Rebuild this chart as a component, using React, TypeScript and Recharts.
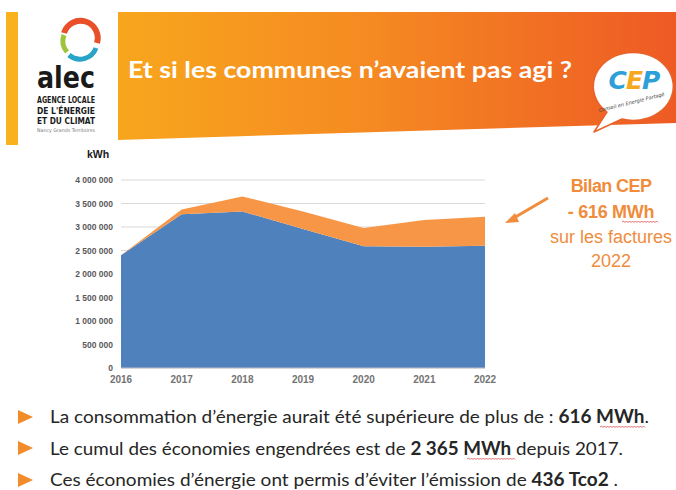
import { AreaChart, Area, XAxis, YAxis, CartesianGrid } from "recharts";

// consommation réelle vs. économies CEP (kWh)
const years = ["2016", "2017", "2018", "2019", "2020", "2021", "2022"];
const consumption = [2400000, 3270000, 3330000, 2960000, 2590000, 2580000, 2600000];
const savings = [0, 100000, 320000, 370000, 390000, 570000, 616000];
const yTicks = [0, 500000, 1000000, 1500000, 2000000, 2500000, 3000000, 3500000, 4000000];

const data = years.map((year, i) => ({
  year,
  reel: consumption[i],
  economie: savings[i],
}));

function fmtKwh(n: number) {
  return String(n).replace(/\B(?=(\d{3})+(?!\d))/g, " ");
}

// petit soulignement ondulé (correcteur)
function squiggle(x1: number, x2: number, y: number) {
  let d = `M${x1},${y}`;
  let up = true;
  for (let x = x1 + 1.5; x <= x2; x += 1.5) {
    d += ` L${x},${up ? y - 1 : y + 0.5}`;
    up = !up;
  }
  return d;
}

const ORANGE = "#F08C3C";
const bodyFont = "Lato, 'Open Sans', sans-serif";
const logoFont = "'DejaVu Sans', sans-serif";

export default function App() {
  return (
    <div
      style={{
        position: "absolute",
        left: 0,
        top: 0,
        width: 676,
        height: 490,
        background: "#fff",
        overflow: "hidden",
      }}
    >
      <svg width={676} height={490} style={{ position: "absolute", left: 0, top: 0 }}>
        <defs>
          <linearGradient id="band" x1="0" y1="0" x2="1" y2="0">
            <stop offset="0%" stopColor="#F8A61D" />
            <stop offset="45%" stopColor="#F58A22" />
            <stop offset="100%" stopColor="#EE5A24" />
          </linearGradient>
        </defs>

        {/* bandeau */}
        <rect x={6} y={12} width={12} height={133} fill="#F9B21C" />
        <polygon points="118,12 676,12 676,123 118,140" fill="url(#band)" />

        {/* logo alec */}
        <path d="M64,33 A17,17 0 0 1 97,43" stroke="#E9502A" strokeWidth={6} fill="none" />
        <path d="M96,48 A17,17 0 0 1 69,55" stroke="#27A4C8" strokeWidth={5} fill="none" />
        <path d="M67,52 A17,17 0 0 1 64,35" stroke="#9DC53B" strokeWidth={5} fill="none" />
        <text x={37} y={88} fontFamily={logoFont} fontWeight={700} fontSize={30} textLength={58} lengthAdjust="spacingAndGlyphs" fill="#1a1a1a">alec</text>
        <text x={37} y={103} fontFamily={logoFont} fontWeight={700} fontSize={9} textLength={58} lengthAdjust="spacingAndGlyphs" fill="#1a1a1a">AGENCE LOCALE</text>
        <text x={37} y={113.5} fontFamily={logoFont} fontWeight={700} fontSize={9} textLength={58} lengthAdjust="spacingAndGlyphs" fill="#1a1a1a">DE L'ÉNERGIE</text>
        <text x={37} y={123.5} fontFamily={logoFont} fontWeight={700} fontSize={9} textLength={58} lengthAdjust="spacingAndGlyphs" fill="#1a1a1a">ET DU CLIMAT</text>
        <text x={37} y={132} fontFamily={logoFont} fontSize={5} textLength={58} lengthAdjust="spacingAndGlyphs" fill="#777">Nancy Grands Territoires</text>

        {/* titre */}
        <text x={128} y={78} fontFamily={bodyFont} fontWeight={700} fontSize={22.5} textLength={444} lengthAdjust="spacingAndGlyphs" fill="#fff">
          Et si les communes n’avaient pas agi ?
        </text>

        {/* bulle CEP */}
        <path
          d="M607,112 A40,34 0 1 1 622,119 L594,132 Z"
          fill="#fff"
          stroke="#E8632B"
          strokeWidth={1.5}
          strokeLinejoin="round"
        />
        <text x={634} y={89} textAnchor="middle" fontFamily={logoFont} fontStyle="italic" fontWeight={700} fontSize={25} letterSpacing={-1}>
          <tspan fill="#2E9FD8">C</tspan>
          <tspan fill="#F4A91F">E</tspan>
          <tspan fill="#2E9FD8">P</tspan>
        </text>
        <text x={632} y={104} textAnchor="middle" fontFamily={logoFont} fontStyle="italic" fontSize={5} fill="#444" transform="rotate(-14 632 104)">
          Conseil en Energie Partagé
        </text>

        {/* unité */}
        <text x={87} y={158} fontFamily="'Liberation Sans', Arial, sans-serif" fontWeight={700} fontSize={10.5} fill="#1a1a1a">kWh</text>

        {/* annotation */}
        <g fontFamily="'Liberation Sans', Arial, sans-serif" fill={ORANGE} textAnchor="middle">
          <text x={611} y={192} fontSize={18} fontWeight={700} letterSpacing={-0.6}>Bilan CEP</text>
          <text x={611} y={218} fontSize={18} fontWeight={700} letterSpacing={-0.3}>- 616 MWh</text>
          <text x={611} y={243} fontSize={18}>sur les factures</text>
          <text x={611} y={267} fontSize={18}>2022</text>
        </g>
        <path d={squiggle(622, 658, 222)} stroke="#D94444" strokeWidth={0.8} fill="none" />
        <line x1={548} y1={198} x2={512} y2={219} stroke={ORANGE} strokeWidth={3} />
        <polygon points="505,223 515,213 519,222" fill={ORANGE} />

        {/* puces */}
        {[417, 448, 480].map((cy) => (
          <polygon key={cy} points={`18,${cy - 7} 33,${cy} 18,${cy + 7}`} fill="#F28C28" />
        ))}
        <g fontFamily={bodyFont} fontSize={18} fill="#262626">
          <text x={50} y={423} textLength={599} lengthAdjust="spacingAndGlyphs">
            La consommation d’énergie aurait été supérieure de plus de : <tspan fontWeight={700}>616 MWh</tspan>.
          </text>
          <text x={50} y={455} textLength={573} lengthAdjust="spacingAndGlyphs">
            Le cumul des économies engendrées est de <tspan fontWeight={700}>2 365 MWh</tspan> depuis 2017.
          </text>
          <text x={50} y={486} textLength={568} lengthAdjust="spacingAndGlyphs">
            Ces économies d’énergie ont permis d’éviter l’émission de <tspan fontWeight={700}>436 Tco2</tspan> .
          </text>
        </g>
        <path d={squiggle(600, 645, 427)} stroke="#D94444" strokeWidth={0.8} fill="none" />
        <path d={squiggle(467, 515, 459)} stroke="#D94444" strokeWidth={0.8} fill="none" />
      </svg>

      <div style={{ position: "absolute", left: 0, top: 140 }}>
        <AreaChart width={500} height={250} data={data} margin={{ top: 40, right: 15, left: 0, bottom: 0 }}>
          <CartesianGrid vertical={false} stroke="#D9D9D9" />
          <XAxis
            dataKey="year"
            height={22}
            interval={0}
            tickLine={false}
            axisLine={{ stroke: "#BFBFBF" }}
            tick={{ fill: "#737373", fontSize: 10, fontWeight: 700, fontFamily: "'Liberation Sans', Arial, sans-serif" }}
          />
          <YAxis
            width={121}
            domain={[0, 4000000]}
            ticks={yTicks}
            tickFormatter={fmtKwh}
            tickLine={false}
            axisLine={false}
            tick={{ fill: "#595959", fontSize: 8.5, fontWeight: 700, fontFamily: "'Liberation Sans', Arial, sans-serif" }}
          />
          <Area type="linear" dataKey="reel" stackId="1" stroke="none" fill="#4F81BD" fillOpacity={1} isAnimationActive={false} />
          <Area type="linear" dataKey="economie" stackId="1" stroke="none" fill="#F79646" fillOpacity={1} isAnimationActive={false} />
        </AreaChart>
      </div>
    </div>
  );
}
